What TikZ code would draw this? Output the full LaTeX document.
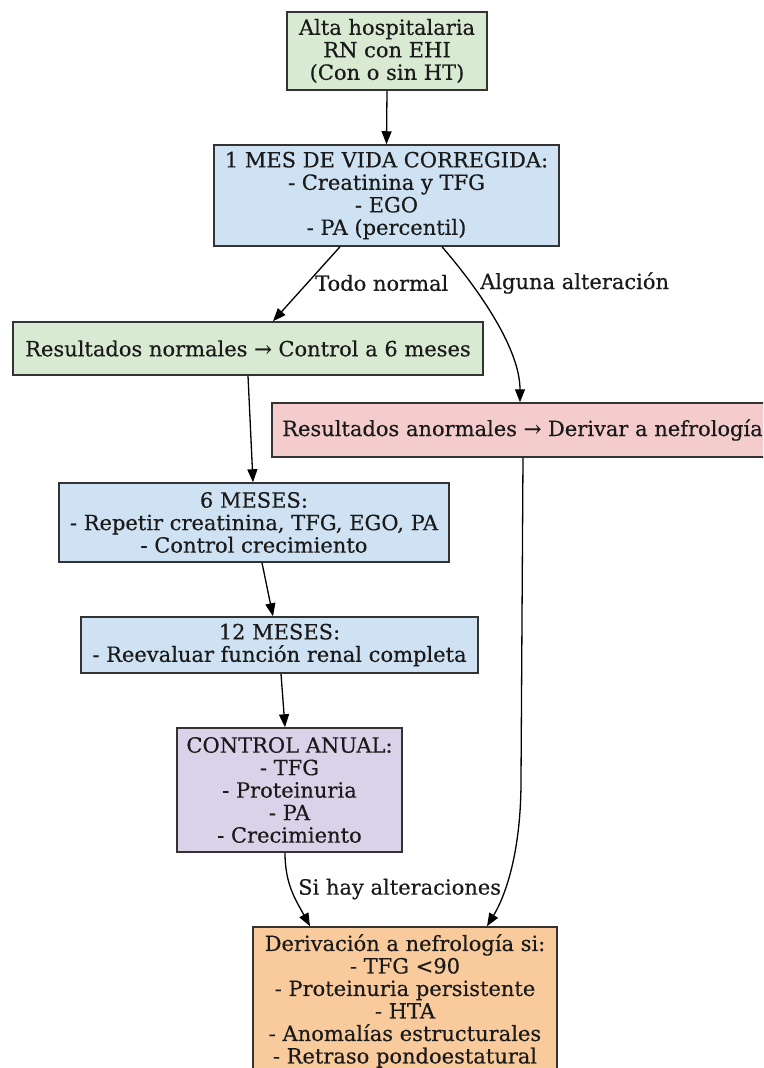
\documentclass[tikz,border=0pt]{standalone}
\usepackage{fontspec}
\setmainfont{DejaVu Serif}[FakeBold=0.4]
\usetikzlibrary{arrows.meta}

\definecolor{boxgreen}{HTML}{D9EAD3}
\definecolor{boxblue}{HTML}{CFE2F3}
\definecolor{boxpink}{HTML}{F4CCCC}
\definecolor{boxpurple}{HTML}{D9D2E9}
\definecolor{boxorange}{HTML}{F9CB9C}
\definecolor{boxline}{HTML}{333333}
\definecolor{textdark}{HTML}{1A1A1A}

\tikzset{
  flowbox/.style={draw=boxline, line width=1.5pt, align=center, inner sep=0pt,
    text=textdark, font=\fontsize{21}{22.5}\selectfont},
  flowarrow/.style={draw=black, line width=1.3pt,
    -{Triangle[length=13pt,width=10pt]}},
  edgelabel/.style={font=\fontsize{21}{22.5}\selectfont, text=textdark,
    inner sep=0pt, anchor=west},
}

\begin{document}
\begin{tikzpicture}[x=1pt, y=-1pt]
  \clip (0,0) rectangle (763,1068);
  \fill[white] (0,0) rectangle (763,1068);

  % steps of the follow-up
  \node[flowbox, fill=boxgreen, minimum width=200pt, minimum height=78pt]
    (alta) at (387,51) {Alta hospitalaria\\RN con EHI\\(Con o sin HT)};
  \node[flowbox, fill=boxblue, minimum width=345pt, minimum height=101pt]
    (mes1) at (386.5,195.5) {1 MES DE VIDA CORREGIDA:\\- Creatinina y TFG\\- EGO\\- PA (percentil)};
  \node[flowbox, fill=boxgreen, minimum width=470pt, minimum height=53pt]
    (normales) at (248,348.5) {Resultados normales → Control a 6 meses};
  \node[flowbox, fill=boxpink, minimum width=501pt, minimum height=54pt]
    (anormales) at (522.5,430) {Resultados anormales → Derivar a nefrología};
  \node[flowbox, fill=boxblue, minimum width=390pt, minimum height=79pt]
    (m6) at (254,522.5) {6 MESES:\\- Repetir creatinina, TFG, EGO, PA\\- Control crecimiento};
  \node[flowbox, fill=boxblue, minimum width=397pt, minimum height=56pt]
    (m12) at (279.5,645) {12 MESES:\\- Reevaluar función renal completa};
  \node[flowbox, fill=boxpurple, minimum width=225pt, minimum height=124pt]
    (anual) at (289.5,790) {CONTROL ANUAL:\\- TFG\\- Proteinuria\\- PA\\- Crecimiento};
  \node[flowbox, fill=boxorange, minimum width=304pt, minimum height=148pt]
    (deriv) at (405,1001) {Derivación a nefrología si:\\- TFG <90\\- Proteinuria persistente\\- HTA\\- Anomalías estructurales\\- Retraso pondoestatural};

  % connectors
  \draw[flowarrow] (alta.south) -- (mes1.north);
  \draw[flowarrow] ([xshift=-46.5pt]mes1.south) -- ([xshift=25pt]normales.north);
  \draw[flowarrow] ([xshift=55.5pt]mes1.south)
    .. controls +(38,44) and +(0,-53) .. ([xshift=-2.5pt]anormales.north);
  \draw[flowarrow] (normales.south) -- ([xshift=-1pt]m6.north);
  \draw[flowarrow] ([xshift=8pt]m6.south) -- ([xshift=-6.5pt]m12.north);
  \draw[flowarrow] ([xshift=1.5pt]m12.south) -- ([xshift=-4.5pt]anual.north);
  \draw[flowarrow] ([xshift=-4.5pt]anual.south)
    .. controls +(0,32) and +(-14,-26) .. ([xshift=-95pt]deriv.north);
  \draw[flowarrow] ([xshift=0.5pt]anormales.south) -- ++(-2,323)
    .. controls +(0,75) and +(17,-28) .. ([xshift=82pt]deriv.north);

  % edge labels
  \node[edgelabel] (lblnormal) at (315,283) {Todo normal};
  \node[edgelabel] (lblalter) at (480,283) {Alguna alteración};
  \node[edgelabel] (lblsi) at (298,889) {Si hay alteraciones};
\end{tikzpicture}
\end{document}
